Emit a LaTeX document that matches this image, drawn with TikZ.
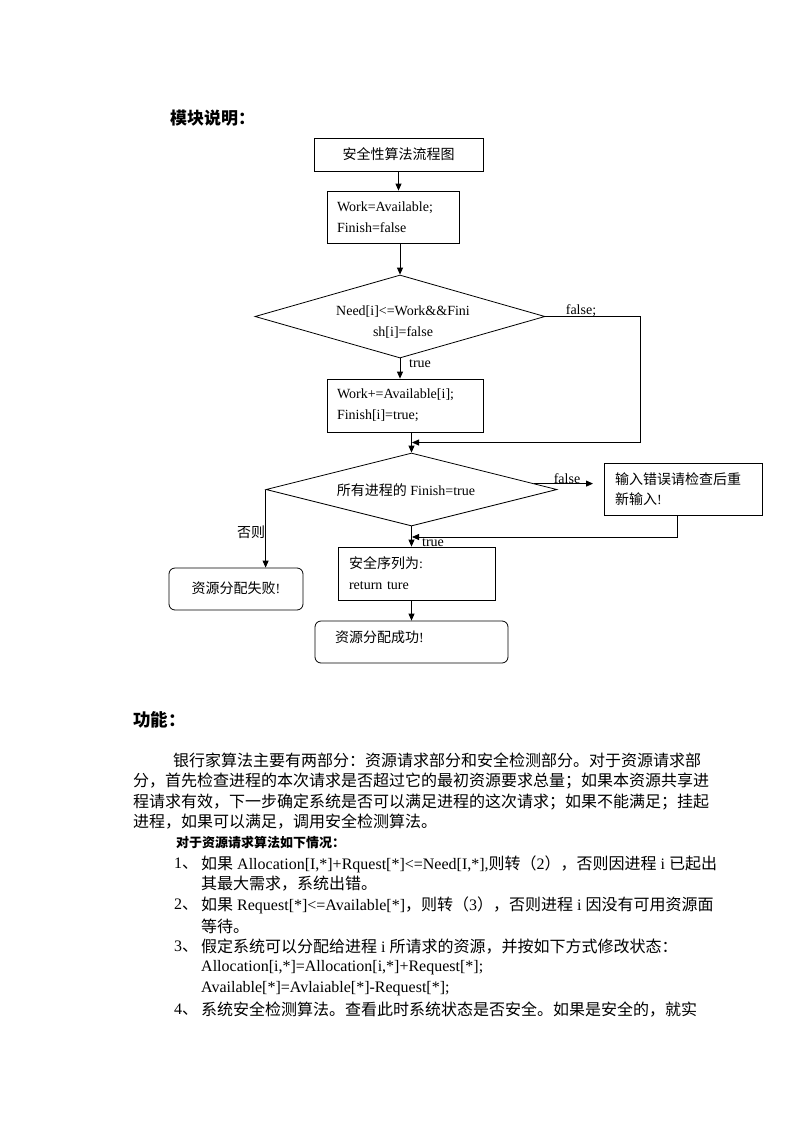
\documentclass[tikz,border=0pt]{standalone}
\usepackage{fontspec}
\setmainfont{Liberation Serif}
\newfontfamily\cjk{Noto Sans CJK SC}
\usetikzlibrary{shapes.geometric,arrows.meta,calc}
\newcommand\zh[1]{{\cjk #1}}
\begin{document}
\begin{tikzpicture}[x=1pt,y=-1pt,
  fc/.style={font=\fontsize{14}{21}\selectfont},
  box/.style={draw, line width=0.8pt, rectangle, inner sep=0pt, fc},
  rbox/.style={box, rounded corners=6pt},
  dia/.style={draw, line width=0.8pt, diamond, inner sep=0pt},
  lbl/.style={inner sep=0pt, fc},
  conn/.style={line width=0.8pt},
  arr/.style={conn, -{Triangle[length=7pt,width=6pt]}},
  body/.style={inner sep=0pt, anchor=west, font=\fontsize{16}{21}\selectfont},
  head/.style={inner sep=0pt, anchor=west, font=\fontsize{17}{17}\selectfont\cjk\bfseries},
]
\useasboundingbox (0,0) rectangle (800,1132);

% heading
\node[head] (h1) at (170,118) {模块说明：};

% flowchart boxes
\node[box, minimum width=169pt, minimum height=33pt] (b1) at (398.5,154.5) {\zh{安全性算法流程图}};
\node[box, minimum width=132pt, minimum height=52pt, align=left, text width=112pt] (b2) at (393,217) {Work=Available;\\Finish=false};
\node[dia, minimum width=290pt, minimum height=83pt] (d1) at (400,316.5) {};
\node[lbl, align=center] (t1) at (403,322.5) {Need[i]<=Work\&\&Fini\\sh[i]=false};
\node[box, minimum width=156pt, minimum height=53pt, align=left, text width=136pt] (b3) at (405,405.5) {Work+=Available[i];\\Finish[i]=true;};
\node[dia, minimum width=291pt, minimum height=73pt] (d2) at (411.5,489.5) {};
\node[lbl] (t2) at (406,490) {\zh{所有进程的} Finish=true};
\node[box, minimum width=158pt, minimum height=52pt, align=left, text width=136pt, font=\fontsize{14}{20}\selectfont] (err) at (683,489) {\zh{输入错误请检查后重}\\\zh{新输入}!};
\node[rbox, minimum width=134pt, minimum height=42pt] (fail) at (236,589) {\raisebox{3pt}{\zh{资源分配失败}!}};
\node[box, minimum width=157pt, minimum height=53pt, align=left, text width=135pt] (b4) at (416.5,573.5) {\zh{安全序列为}:\\return ture};
\node[rbox, minimum width=193pt, minimum height=42pt] (b5) at (411.5,642) {};
\node[lbl, anchor=west] (t5) at (335,637) {\zh{资源分配成功}!};

% connectors
\draw[arr] (b1.south) -- (b1.south |- b2.north);
\draw[arr] (d1.north |- b2.south) -- (d1.north);
\draw[arr] (d1.south) -- (d1.south |- b3.north);
\node[lbl] (l1) at (420,364) {true};
\coordinate (c1) at (640,442.5);
\coordinate (m1) at (412,442.5);
\draw[arr] (d1.east) -| (c1) -- (m1);
\node[lbl] (l2) at (581,311) {false;};
\draw[arr] (d2.north |- b3.south) -- (d2.north);
\draw[arr] (d2.west) -- (d2.west |- fail.north);
\node[lbl] (l3) at (251,532) {\zh{否则}};
\coordinate (f2s) at ($(d2.north)!0.84!(d2.east)$);
\coordinate (f2e) at (593,484);
\draw[arr] (f2s) -- (f2s -| f2e);
\node[lbl] (l4) at (567,479) {false};
\coordinate (e1) at (677,515);
\coordinate (m2) at (412,537);
\draw[arr] (e1) |- (m2);
\draw[arr] (d2.south) -- (d2.south |- b4.north);
\node[lbl] (l5) at (433,543) {true};
\draw[arr] (d2.south |- b4.south) -- (d2.south |- b5.north);

% text section
\node[head, font=\fontsize{17.5}{17.5}\selectfont\cjk\bfseries] (h2) at (133,720) {功能：};
\node[body] (p1) at (173,760) {\zh{银行家算法主要有两部分：资源请求部分和安全检测部分。对于资源请求部}};
\node[body] (p2) at (133,781) {\zh{分，首先检查进程的本次请求是否超过它的最初资源要求总量；如果本资源共享进}};
\node[body] (p3) at (133,802) {\zh{程请求有效，下一步确定系统是否可以满足进程的这次请求；如果不能满足；挂起}};
\node[body] (p4) at (133,822) {\zh{进程，如果可以满足，调用安全检测算法。}};
\node[head, font=\fontsize{13}{13}\selectfont\cjk\bfseries] (h3) at (176,843) {对于资源请求算法如下情况：};

\node[body] (n1) at (174,864) {1\zh{、}};
\node[body] (i1) at (201,864) {\zh{如果} Allocation[I,*]+Rquest[*]<=Need[I,*],\zh{则转（}2\zh{），否则因进程} i \zh{已起出}};
\node[body] (i1b) at (201,884) {\zh{其最大需求，系统出错。}};
\node[body] (n2) at (174,905) {2\zh{、}};
\node[body] (i2) at (201,905) {\zh{如果} Request[*]<=Available[*]\zh{，则转（}3\zh{），否则进程} i \zh{因没有可用资源面}};
\node[body] (i2b) at (201,926) {\zh{等待。}};
\node[body] (n3) at (174,947) {3\zh{、}};
\node[body] (i3) at (201,947) {\zh{假定系统可以分配给进程} i \zh{所请求的资源，并按如下方式修改状态：}};
\node[body] (i3b) at (201,968) {Allocation[i,*]=Allocation[i,*]+Request[*];};
\node[body] (i3c) at (201,989) {Available[*]=Avlaiable[*]-Request[*];};
\node[body] (n4) at (174,1010) {4\zh{、}};
\node[body] (i4) at (201,1010) {\zh{系统安全检测算法。查看此时系统状态是否安全。如果是安全的，就实}};
\end{tikzpicture}
\end{document}
